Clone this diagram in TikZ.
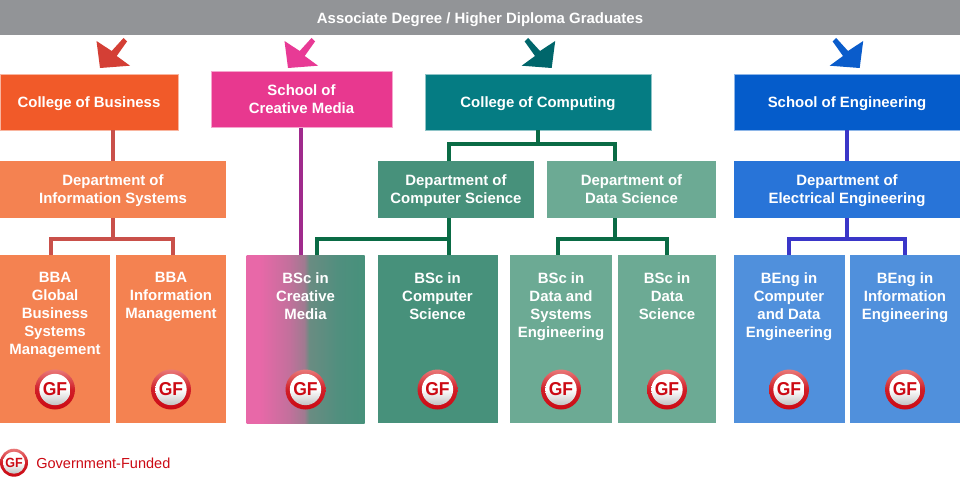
\documentclass[tikz,border=0pt]{standalone}
\usepackage{fontspec}
\setmainfont{Liberation Sans}
\definecolor{cBiz}{HTML}{F15A29}
\definecolor{cCM}{HTML}{E8388F}
\definecolor{cComp}{HTML}{057C83}
\definecolor{cEng}{HTML}{055CCB}
\definecolor{cOrange}{HTML}{F48251}
\definecolor{cCS}{HTML}{47917B}
\definecolor{cDS}{HTML}{6CAA94}
\definecolor{cEE}{HTML}{2874D8}
\definecolor{cBE}{HTML}{5090DC}
\definecolor{cGrey}{HTML}{929497}
\definecolor{cGF}{HTML}{CC0A14}
\definecolor{lRed}{HTML}{C9504A}
\definecolor{lPurple}{HTML}{A02A8C}
\definecolor{lGreen}{HTML}{0A6B45}
\definecolor{lBlue}{HTML}{3A36C8}
\definecolor{aRed}{HTML}{D43F35}
\definecolor{aPink}{HTML}{E83A95}
\definecolor{aTeal}{HTML}{00666B}
\definecolor{aBlue}{HTML}{0A5CCB}
\definecolor{cmpink}{HTML}{E868A8}
\definecolor{cmA}{HTML}{C3709C}
\definecolor{cmB}{HTML}{A07A90}
\definecolor{cmC}{HTML}{6A8C82}
\definecolor{cmD}{HTML}{4F8F7E}
\definecolor{gfPale}{HTML}{E97878}
\pgfdeclarehorizontalshading{cmfade}{100bp}{color(0bp)=(cmpink); color(30.5bp)=(cmpink); color(43bp)=(cmA); color(49.5bp)=(cmB); color(51.5bp)=(cmC); color(64.5bp)=(cmD); color(75bp)=(cCS); color(100bp)=(cCS)}
\tikzset{
  bx/.style={rectangle,inner sep=0pt,outer sep=0pt,text=white,align=center,
    font=\bfseries\fontsize{11.2}{13.5}\selectfont},
  ptext/.style={inner sep=0pt,outer sep=0pt,text=white,align=center,anchor=north,
    font=\bfseries\fontsize{11.2}{13.5}\selectfont},
  edge/.style={draw=#1!45!white,line width=0.5pt},
  conn/.style={line width=2.3pt,#1},
  gfo/.style={circle,inner sep=0pt,minimum size=30pt,shade,shading angle=45,
    top color=gfPale,bottom color=cGF,middle color=cGF!92!white,draw=none},
  gfi/.style={circle,inner sep=0pt,minimum size=23.5pt,shade,top color=white,bottom color=black!24,middle color=white,
    text=cGF,font=\bfseries\fontsize{14}{15}\selectfont},
  gfos/.style={gfo,minimum size=21pt},
  gfis/.style={gfi,minimum size=16.5pt,font=\bfseries\fontsize{10}{11}\selectfont},
}
% name, x0, y0, x1, y1, options, text
\newcommand\bxn[7]{%
  \pgfmathsetmacro\bw{(#4-#2)*0.75}\pgfmathsetmacro\bh{(#5-#3)*0.75}%
  \node[bx,minimum width=\bw pt,minimum height=\bh pt,#6] (#1) at ({(#2+#4)/2},{(#3+#5)/2}) {\raisebox{-1.1pt}[\height][\depth]{\begin{tabular}{@{}c@{}}#7\end{tabular}}};}
% name, x0, x1, options, text, centre x
\newcommand\prg[6]{%
  \bxn{#1}{#2}{255}{#3}{423}{#4}{}%
  \node[ptext] (#1t) at (#6,272.5) {#5};
  \node[gfo] (#1o) at (#6,389.5) {};
  \node[gfi] (#1g) at (#6,389.5) {\scalebox{0.94}[1]{GF}};}
\newcommand\grarrow[3]{%
  \fill[#3,shift={(#1,0)},xscale=#2] (123.5,38) -- (127,41.5) -- (116.7,56) -- (130,65.7) -- (100,68) -- (96.5,41) -- (111.7,51) -- cycle;}
\begin{document}
\begin{tikzpicture}[x=0.75pt,y=-0.75pt]
\useasboundingbox (0,0) rectangle (960,485);
\fill[white] (0,0) rectangle (960,485);
% top bar
\bxn{top}{0}{0}{960}{35}{fill=cGrey}{\raisebox{-0.4pt}[\height][\depth]{Associate Degree / Higher Diploma Graduates}}
% arrows
\grarrow{0}{1}{aRed}
\grarrow{188}{1}{aPink}
\grarrow{651.7}{-1}{aTeal}
\grarrow{959.7}{-1}{aBlue}
% schools
\bxn{cob}{0}{74}{178}{130}{fill=cBiz,edge=cBiz}{College of Business}
\bxn{scm}{211}{71.5}{392}{127.5}{fill=cCM,edge=cCM}{School of\\Creative Media}
\bxn{coc}{425}{74}{651}{130}{fill=cComp,edge=cComp}{College of Computing}
\bxn{soe}{734}{74}{960}{130}{fill=cEng,edge=cEng}{School of Engineering}
% departments
\bxn{dis}{0}{161}{226}{218}{fill=cOrange}{Department of\\Information Systems}
\bxn{dcs}{378}{161}{534}{218}{fill=cCS}{Department of\\Computer Science}
\bxn{dds}{547}{161}{716}{218}{fill=cDS}{Department of\\Data Science}
\bxn{dee}{734}{161}{960}{218}{fill=cEE}{Department of\\Electrical Engineering}
% connectors
\coordinate (jis) at (113,239);
\coordinate (jcoc) at (538,144);
\coordinate (jcs) at (449,239);
\coordinate (jds) at (615,239);
\coordinate (jee) at (847,239);
\coordinate (jcm) at (301,255);
\draw[conn=lRed] (cob.south -| jis) -- (dis.north -| jis);
\draw[conn=lRed] (dis.south -| jis) -- (jis);
\draw[conn=lRed] (51,255) |- (jis) -| (173,255);
\draw[conn=lPurple] (scm.south -| jcm) -- (jcm);
\draw[conn=lGreen] (coc.south -| jcoc) -- (jcoc);
\draw[conn=lGreen] (dcs.north -| jcs) |- (jcoc) -| (dds.north -| jds);
\draw[conn=lGreen] (dcs.south -| jcs) -- (449,255);
\draw[conn=lGreen] (317,255) |- (jcs);
\draw[conn=lGreen] (dds.south -| jds) -- (jds);
\draw[conn=lGreen] (558,255) |- (jds) -| (667,255);
\draw[conn=lBlue] (soe.south -| jee) -- (dee.north -| jee);
\draw[conn=lBlue] (dee.south -| jee) -- (jee);
\draw[conn=lBlue] (789,255) |- (jee) -| (905,255);
% programmes
\prg{p1}{0}{110}{fill=cOrange}{BBA\\Global\\Business\\Systems\\Management}{55}
\prg{p2}{116}{226}{fill=cOrange}{BBA\\Information\\Management}{171}
\prg{p3}{246.5}{364.5}{shade,shading=cmfade}{BSc in\\Creative\\Media}{305.5}
\prg{p4}{378}{497.5}{fill=cCS}{BSc in\\Computer\\Science}{437.5}
\prg{p5}{510}{612}{fill=cDS}{BSc in\\Data and\\Systems\\Engineering}{561}
\prg{p6}{618}{716}{fill=cDS}{BSc in\\Data\\Science}{667}
\prg{p7}{734}{845}{fill=cBE}{BEng in\\Computer\\and Data\\Engineering}{789}
\prg{p8}{850}{960}{fill=cBE}{BEng in\\Information\\Engineering}{905}
% legend
\node[gfos] (lgo) at (14,462.7) {};
\node[gfis] (lg) at (14,462.7) {\scalebox{0.94}[1]{GF}};
\node[anchor=west,inner sep=0pt,text=cGF,font=\fontsize{10.9}{12}\selectfont] (lt) at (36,463.5) {Government-Funded};
\end{tikzpicture}
\end{document}
